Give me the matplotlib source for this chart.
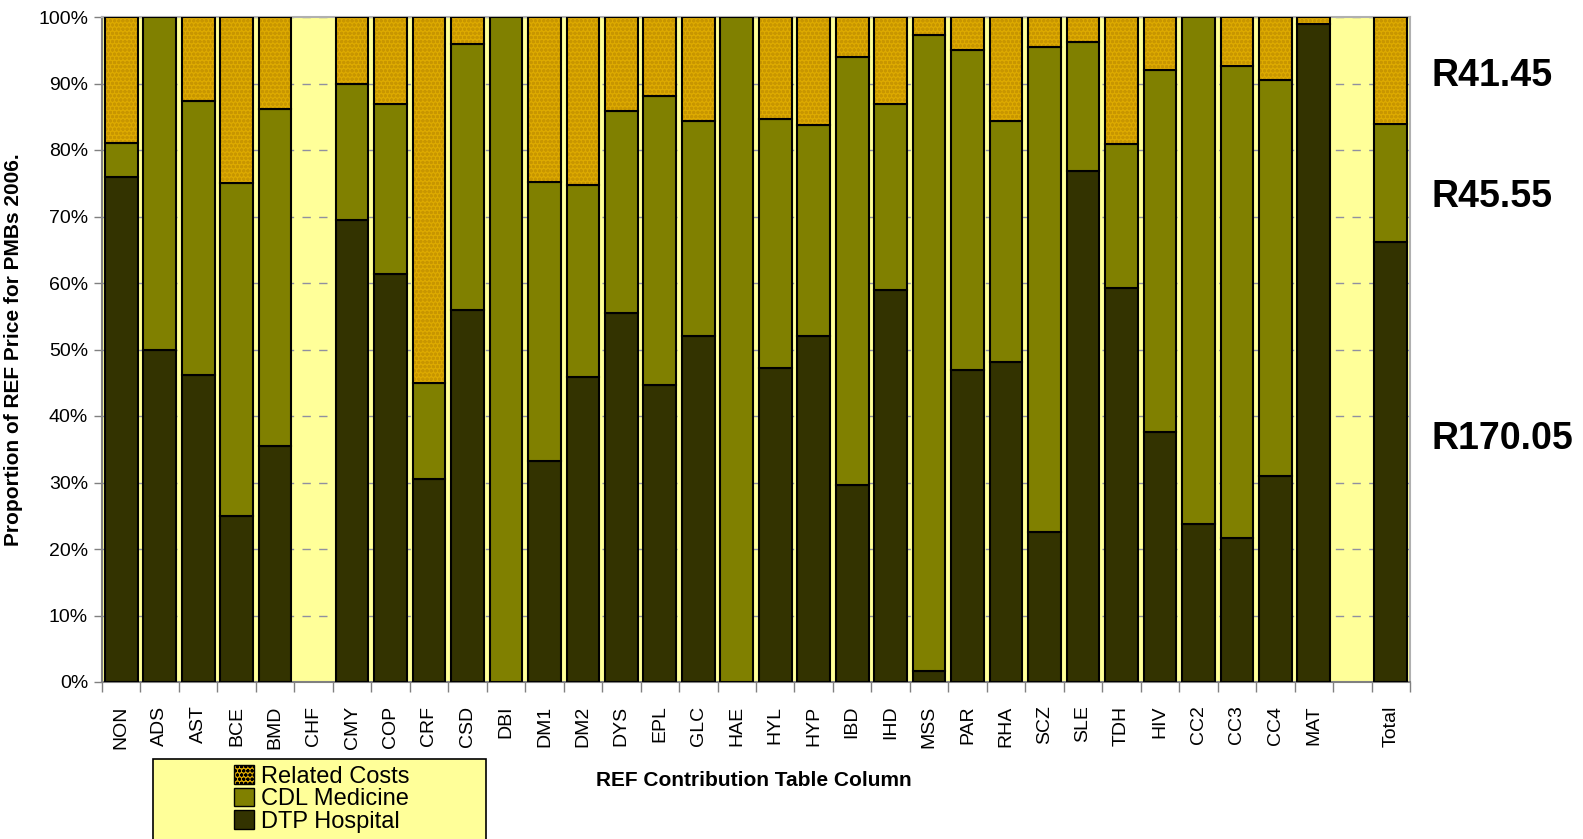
import matplotlib
matplotlib.use("Agg")
import matplotlib.pyplot as plt
from matplotlib.patches import Rectangle, Patch
import numpy as np

plt.rcParams['font.family'] = ['Liberation Sans', 'DejaVu Sans']
plt.rcParams['hatch.linewidth'] = 1.0

categories = ["NON", "ADS", "AST", "BCE", "BMD", "CHF", "CMY", "COP", "CRF", "CSD",
              "DBI", "DM1", "DM2", "DYS", "EPL", "GLC", "HAE", "HYL", "HYP", "IBD",
              "IHD", "MSS", "PAR", "RHA", "SCZ", "SLE", "TDH", "HIV", "CC2", "CC3",
              "CC4", "MAT", "", "Total"]

# Shares (%) per column; the Total column is built from the rand amounts below
dtp_hospital = [76.0, 50.0, 46.2, 25.0, 35.5, 0.0, 69.5, 61.4, 30.5, 56.0,
                0.0, 33.3, 45.8, 55.5, 44.6, 52.0, 0.0, 47.2, 52.0, 29.6,
                59.0, 1.6, 46.9, 48.1, 22.6, 76.9, 59.3, 37.6, 23.8, 21.6,
                31.0, 99.0, 0.0]
cdl_medicine = [5.0, 50.0, 41.1, 50.0, 50.7, 0.0, 20.5, 25.5, 14.5, 40.0,
                100.0, 41.9, 28.9, 30.3, 43.5, 32.3, 100.0, 37.5, 31.8, 64.4,
                27.9, 95.7, 48.1, 36.2, 72.9, 19.3, 21.6, 54.5, 76.2, 71.0,
                59.5, 0.0, 0.0]
related_costs = [19.0, 0.0, 12.7, 25.0, 13.8, 0.0, 10.0, 13.1, 55.0, 4.0,
                 0.0, 24.8, 25.3, 14.2, 11.9, 15.7, 0.0, 15.3, 16.2, 6.0,
                 13.1, 2.7, 5.0, 15.7, 4.5, 3.8, 19.1, 7.9, 0.0, 7.4,
                 9.5, 1.0, 0.0]

# Total price split in rand
total_rand = {"DTP Hospital": 170.05, "CDL Medicine": 45.55, "Related Costs": 41.45}
total_sum = sum(total_rand.values())
dtp_hospital.append(100 * total_rand["DTP Hospital"] / total_sum)
cdl_medicine.append(100 * total_rand["CDL Medicine"] / total_sum)
related_costs.append(100 * total_rand["Related Costs"] / total_sum)

yticks = np.arange(0, 101, 10)

c_dtp = "#333300"
c_cdl = "#808000"
c_rel = "#DDAA00"
c_rel_dots = "#C89600"
c_bg = "#FFFF99"

fig = plt.figure(figsize=(15.83, 8.39), dpi=100)
ax = fig.add_axes([102 / 1583, 1 - 682 / 839, (1410 - 102) / 1583, (682 - 17) / 839])
ax.set_facecolor(c_bg)

x = np.arange(len(categories))
w = 0.85
dtp = np.array(dtp_hospital)
cdl = np.array(cdl_medicine)
rel = np.array(related_costs)


def stacked(values, bottom, **kw):
    """Draw only the non-empty segments of one stacked series."""
    m = values > 0
    ax.bar(x[m], values[m], w, bottom=bottom[m], **kw)


zero = np.zeros_like(dtp)
stacked(dtp, zero, color=c_dtp, edgecolor="black", linewidth=1.5, zorder=3)
stacked(cdl, dtp, color=c_cdl, edgecolor="black", linewidth=1.5, zorder=3)
stacked(rel, dtp + cdl, color=c_rel, edgecolor=c_rel_dots, hatch="oooo", linewidth=0, zorder=3)
stacked(rel, dtp + cdl, fill=False, edgecolor="black", linewidth=1.5, zorder=4)

ax.set_xlim(-0.5, len(categories) - 0.5)
ax.set_ylim(0, 100)
ax.set_yticks(yticks)
ax.set_yticklabels([f"{v}%" for v in yticks], fontsize=14)
ax.yaxis.grid(True, linestyle=(0, (6, 6)), color="#9090A0", linewidth=1, zorder=1)

ax.set_xticks(x)
ax.set_xticklabels(categories, rotation=90, fontsize=14)
ax.set_xticks(np.arange(-0.5, len(categories), 1), minor=True)
ax.tick_params(axis="x", which="major", length=0, pad=17)
ax.tick_params(axis="x", which="minor", length=7, color="#808080", width=1)
ax.tick_params(axis="y", length=6, color="#808080", width=1, pad=4)

for side in ["left", "bottom"]:
    ax.spines[side].set_color("#808080")
    ax.spines[side].set_linewidth(1.5)
for side in ["top", "right"]:
    ax.spines[side].set_color("#B0B0B0")
    ax.spines[side].set_linewidth(1.5)

ax.set_ylabel("Proportion of REF Price for PMBs 2006.", fontsize=15, fontweight="bold")
ax.yaxis.set_label_coords((23 - 102) / 1308, 0.5)
fig.text(754 / 1583, 1 - 781 / 839, "REF Contribution Table Column", fontsize=15,
         fontweight="bold", ha="center", va="center")

# Rand amounts beside the Total column
for key, ypos in [("Related Costs", 91.1), ("CDL Medicine", 72.9), ("DTP Hospital", 36.5)]:
    ax.text(1.0165, ypos / 100, f"R{total_rand[key]:.2f}", transform=ax.transAxes,
            fontsize=27, fontweight="bold", ha="left", va="center")

# Legend box
fig.patches.append(Rectangle((153 / 1583, -0.01), (486 - 153) / 1583, (839 - 759) / 839 + 0.01,
                             transform=fig.transFigure, facecolor=c_bg, edgecolor="black",
                             linewidth=1.2, zorder=0))
handles = [Patch(facecolor=c_rel, edgecolor="black", hatch="oooo"),
           Patch(facecolor=c_cdl, edgecolor="black"),
           Patch(facecolor=c_dtp, edgecolor="black")]
fig.legend(handles, ["Related Costs", "CDL Medicine", "DTP Hospital"],
           loc="upper left", bbox_to_anchor=(234 / 1583, 1 - 765 / 839),
           frameon=False, fontsize=17, handlelength=0.85, handleheight=0.85,
           handletextpad=0.3, labelspacing=0.0, borderpad=0, borderaxespad=0)

fig.savefig("out.png", dpi=100, facecolor="white")
